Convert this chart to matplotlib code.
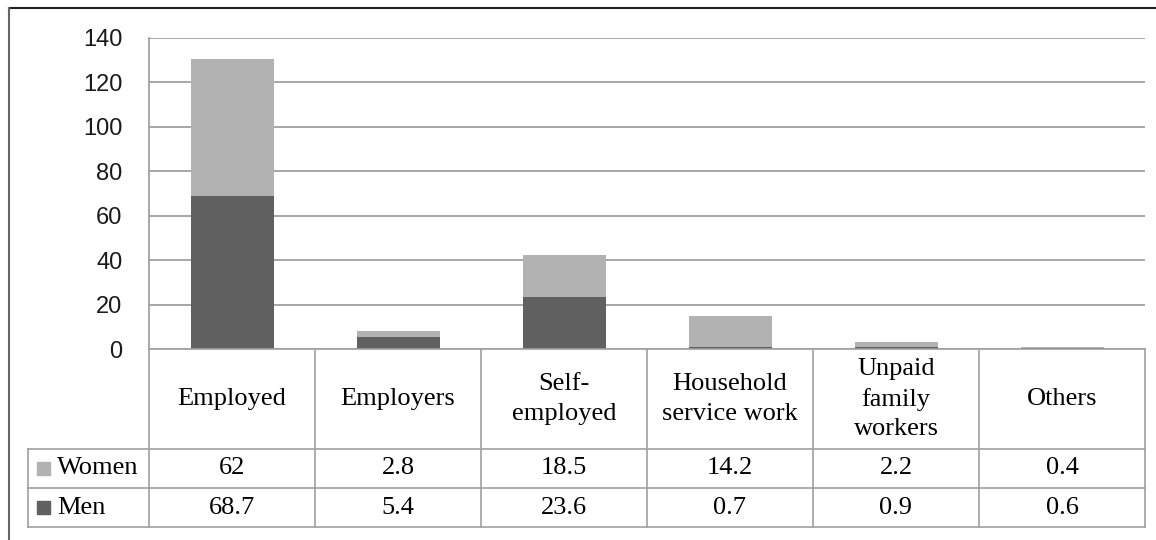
import numpy as np
import matplotlib.pyplot as plt
from matplotlib.lines import Line2D
from matplotlib.patches import Rectangle
from matplotlib.transforms import blended_transform_factory

categories = ["Employed", "Employers", "Self-\nemployed", "Household\nservice work",
              "Unpaid\nfamily\nworkers", "Others"]
women = [62, 2.8, 18.5, 14.2, 2.2, 0.4]
men = [68.7, 5.4, 23.6, 0.7, 0.9, 0.6]
women_labels = ["62", "2.8", "18.5", "14.2", "2.2", "0.4"]
men_labels = ["68.7", "5.4", "23.6", "0.7", "0.9", "0.6"]
yticks = [0, 20, 40, 60, 80, 100, 120, 140]

W, H = 1156, 540
c_women = "#b2b2b2"
c_men = "#606060"
c_line = "#a0a0a0"
serif = "Liberation Serif"

fig = plt.figure(figsize=(W / 100, H / 100), dpi=100)


def fx(px):
    return px / W


def fy(py):
    return 1 - py / H


# plot area in pixels
left, right, top, bottom = 149, 1145, 38, 349
ax = fig.add_axes([fx(left), fy(bottom), fx(right - left), (bottom - top) / H])

x = np.arange(len(categories))
ax.bar(x, men, width=0.5, color=c_men, zorder=3)
ax.bar(x, women, width=0.5, bottom=men, color=c_women, zorder=3)

ax.set_xlim(-0.5, len(categories) - 0.5)
ax.set_ylim(0, 140)
ax.set_yticks(yticks)
ax.set_yticklabels([str(t) for t in yticks], fontsize=17, family="Liberation Sans", color="#1a1a1a")
ax.tick_params(axis="y", length=0, pad=19)
ax.set_xticks([])
ax.grid(axis="y", color=c_line, linewidth=1.3, zorder=0)
for s in ["top", "right", "bottom"]:
    ax.spines[s].set_visible(False)
ax.spines["left"].set_color(c_line)
ax.spines["left"].set_linewidth(1.3)

# data table under the plot
tr = blended_transform_factory(ax.transData, fig.transFigure)
row_cat = (349, 449)
row_w = (449, 488)
row_m = (488, 527)
lw = 1.2

fig.add_artist(Line2D([fx(left), fx(right)], [fy(349), fy(349)], color=c_line, lw=lw))
for y0 in [449, 488, 527]:
    fig.add_artist(Line2D([fx(28), fx(right)], [fy(y0), fy(y0)], color=c_line, lw=lw))
for i in range(len(categories) + 1):
    fig.add_artist(Line2D([i - 0.5, i - 0.5], [fy(349), fy(527)], color=c_line, lw=lw,
                          transform=tr))
fig.add_artist(Line2D([fx(28), fx(28)], [fy(449), fy(527)], color=c_line, lw=lw))

for i, cat in enumerate(categories):
    fig.text(i, fy(sum(row_cat) / 2), cat, transform=tr, ha="center", va="center",
             fontsize=19, family=serif, linespacing=1.45)
    fig.text(i, fy(sum(row_w) / 2), women_labels[i], transform=tr, ha="center",
             va="center", fontsize=19, family=serif)
    fig.text(i, fy(sum(row_m) / 2), men_labels[i], transform=tr, ha="center",
             va="center", fontsize=19, family=serif)

# legend keys in the row headers
for (ya, yb), col, name in [(row_w, c_women, "Women"), (row_m, c_men, "Men")]:
    yc = (ya + yb) / 2
    fig.add_artist(Rectangle((fx(37), fy(yc + 6.5)), 13 / W, 13 / H, color=col,
                             transform=fig.transFigure))
    fig.text(fx(57), fy(yc), name, ha="left", va="center", fontsize=19, family=serif)

# outer frame (left and top only, image is cropped)
fig.add_artist(Line2D([fx(9), fx(W)], [fy(8), fy(8)], color="#222222", lw=1.5))
fig.add_artist(Line2D([fx(9), fx(9)], [fy(8), 0], color="#666666", lw=1.5))

fig.savefig("out.png", dpi=100, facecolor="white")
